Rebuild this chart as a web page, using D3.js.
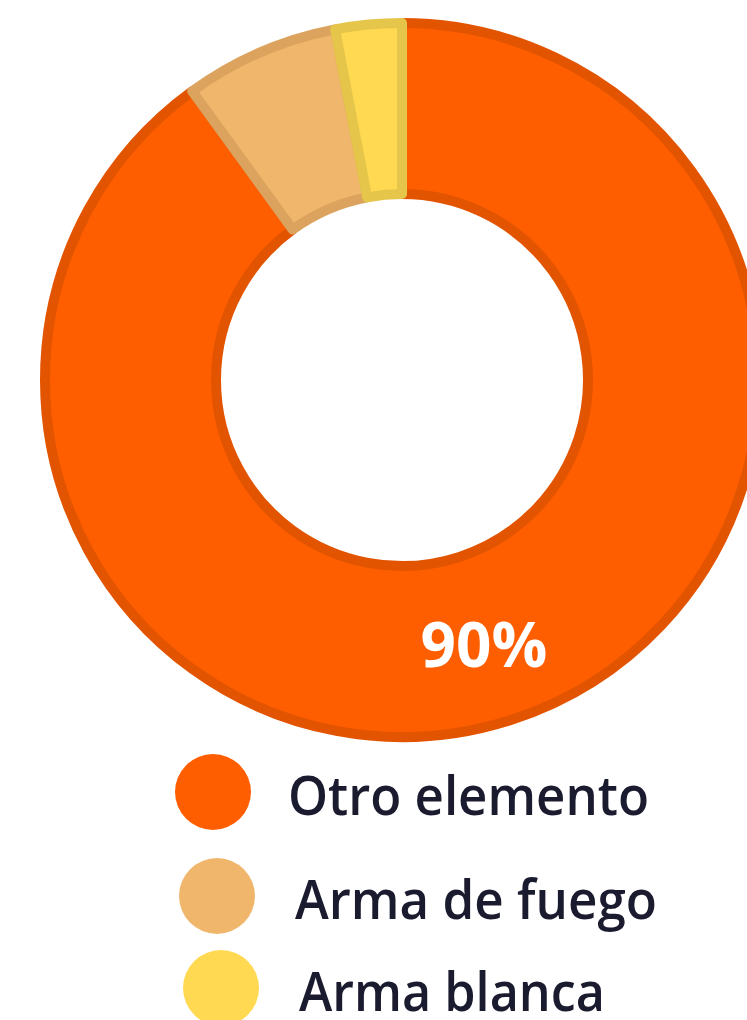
<!DOCTYPE html>
<meta charset="utf-8">
<style>
 body { margin: 0; background: #fff; }
 .legend text { font: 600 54px "Open Sans", sans-serif; fill: #1b1b30; }
 .pct { font: 700 62px "Open Sans", sans-serif; fill: #fff; }
</style>
<svg class="chart"></svg>
<script src="https://cdn.jsdelivr.net/npm/d3@7"></script>
<script>
 var width = 747, height = 1020;

 // data
 var categories = ["Otro elemento", "Arma de fuego", "Arma blanca"];
 var values = [90, 7, 3];
 var fills = ["#ff5e00", "#f0b66b", "#ffd952"];
 var strokes = ["#e35400", "#dba35e", "#e5c54a"];

 var svg = d3.select(".chart").attr("width", width).attr("height", height);

 var cx = 402, cy = 380;

 var pie = d3.pie().sort(null).value(function(d) { return d; });
 var arc = d3.arc().innerRadius(186).outerRadius(357);

 var g = svg.append("g").attr("transform", "translate(" + cx + "," + cy + ")");

 var arcs = pie(values);

 g.selectAll("path").data(arcs).enter()
   .append("path")
   .attr("d", arc)
   .attr("fill", function(d, i) { return fills[i]; })
   .attr("stroke", function(d, i) { return strokes[i]; })
   .attr("stroke-width", 10)
   .attr("stroke-linejoin", "round");

 // only the big slice carries a label
 var c = arc.centroid(arcs[0]);
 g.append("text").attr("class", "pct")
   .attr("x", c[0] - 2).attr("y", c[1] + 12)
   .attr("text-anchor", "middle")
   .attr("dominant-baseline", "middle")
   .text(values[0] + "%");

 var legendX = [213, 217, 221];
 var legendY = [792, 896, 988];
 var textX = [288, 295, 299];
 var textW = [361, 362, 306];

 var legend = svg.append("g").attr("class", "legend");
 var item = legend.selectAll("g").data(categories).enter().append("g");

 item.append("circle")
   .attr("cx", function(d, i) { return legendX[i]; })
   .attr("cy", function(d, i) { return legendY[i]; })
   .attr("r", 38)
   .attr("fill", function(d, i) { return fills[i]; });

 item.append("text")
   .attr("x", function(d, i) { return textX[i]; })
   .attr("y", function(d, i) { return legendY[i] + 23; })
   .attr("textLength", function(d, i) { return textW[i]; })
   .attr("lengthAdjust", "spacingAndGlyphs")
   .text(function(d) { return d; });
</script>
